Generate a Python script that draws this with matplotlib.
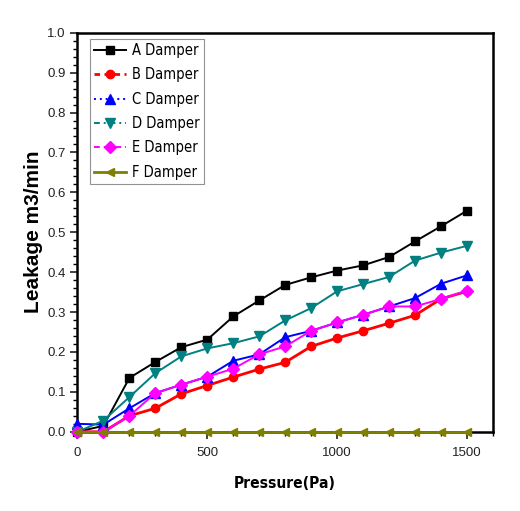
import numpy as np
import matplotlib.pyplot as plt
from matplotlib.lines import Line2D
from matplotlib.ticker import MultipleLocator

plt.rcParams['font.family'] = ['Liberation Sans', 'DejaVu Sans']

# 数据
pressure = [0, 100, 200, 300, 400, 500, 600, 700, 800, 900, 1000, 1100, 1200, 1300, 1400, 1500]
damper_a = [0.0, 0.015, 0.135, 0.175, 0.212, 0.231, 0.289, 0.329, 0.368, 0.387, 0.404, 0.417, 0.438, 0.477, 0.515, 0.554]
damper_b = [0.0, 0.0, 0.04, 0.059, 0.095, 0.116, 0.137, 0.157, 0.174, 0.214, 0.235, 0.253, 0.272, 0.292, 0.333, 0.352]
damper_c = [0.02, 0.018, 0.059, 0.097, 0.118, 0.138, 0.178, 0.194, 0.237, 0.253, 0.274, 0.293, 0.314, 0.335, 0.371, 0.392]
damper_d = [0.0, 0.028, 0.087, 0.147, 0.189, 0.209, 0.222, 0.239, 0.279, 0.31, 0.352, 0.37, 0.388, 0.429, 0.449, 0.466]
damper_e = [0.0, 0.0, 0.04, 0.097, 0.118, 0.138, 0.158, 0.194, 0.214, 0.253, 0.274, 0.293, 0.314, 0.314, 0.333, 0.354]
damper_f = [0.0] * 16
labels = ['A Damper', 'B Damper', 'C Damper', 'D Damper', 'E Damper', 'F Damper']

series = [damper_a, damper_b, damper_c, damper_d, damper_e, damper_f]
colors = ['black', '#ff0000', '#0000ff', '#008080', '#ff00ff', '#808000']
markers = ['s', 'o', '^', 'v', 'D', '<']
sizes = [6, 6, 7, 7, 6, 6]
widths = [1.4, 2.0, 1.4, 1.4, 1.4, 2.0]
leg_styles = ['-', (0, (2, 1.6)), (0, (1, 2)), (0, (3, 2, 1, 2)), (0, (3, 2, 1, 2, 1, 2)), '-']

fig = plt.figure(figsize=(5.2, 5.11), dpi=100)
ax = fig.add_axes([0.149, 0.155, 0.799, 0.781])

handles = []
for y, c, m, s, w, ls, lab in zip(series, colors, markers, sizes, widths, leg_styles, labels):
    ax.plot(pressure, y, color=c, marker=m, markersize=s, linewidth=w, clip_on=False, zorder=3)
    handles.append(Line2D([], [], color=c, marker=m, markersize=s, linewidth=w, linestyle=ls))

ax.set_xlim(0, 1600)
ax.set_ylim(0, 1.0)
ax.xaxis.set_major_locator(MultipleLocator(500))
ax.xaxis.set_minor_locator(MultipleLocator(100))
ax.yaxis.set_major_locator(MultipleLocator(0.1))
ax.yaxis.set_minor_locator(MultipleLocator(0.02))
ax.yaxis.set_major_formatter(plt.FormatStrFormatter('%.1f'))
ax.tick_params(which='major', direction='out', length=5, width=1.2, labelsize=9.5, colors='#222222')
ax.tick_params(axis='x', which='major', pad=6)
ax.tick_params(which='minor', direction='out', length=3, width=1)
for sp in ax.spines.values():
    sp.set_linewidth(1.8)

ax.set_xlabel('Pressure(Pa)', fontsize=11.2, fontweight='bold', family='DejaVu Sans',
              fontstretch='condensed', labelpad=12)
ax.set_ylabel('Leakage m3/min', fontsize=15, fontweight='bold', labelpad=3)

leg = ax.legend(handles, labels, loc='upper left', bbox_to_anchor=(0.03, 0.985),
                prop={'family': 'DejaVu Sans', 'stretch': 'condensed', 'size': 10.5},
                fancybox=False, edgecolor='#777777', handlelength=2.2, handletextpad=0.35,
                labelspacing=0.64, borderpad=0.3, borderaxespad=0)
leg.get_frame().set_linewidth(0.8)

plt.savefig('out.png', dpi=100)
